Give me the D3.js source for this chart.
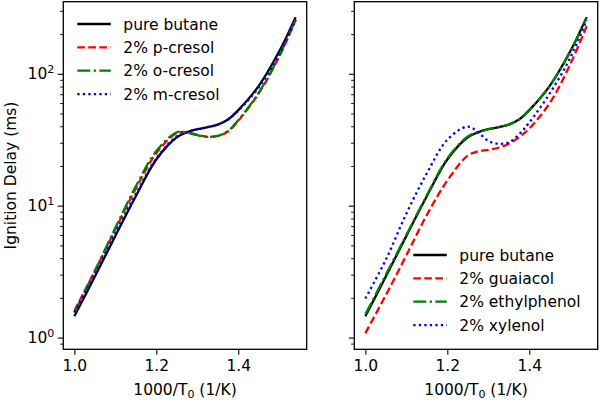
<!DOCTYPE html>
<html><head><meta charset="utf-8">
<script src="https://cdn.jsdelivr.net/npm/d3@7"></script>
<style>body{margin:0;background:#fff}svg{display:block}text{font-family:"DejaVu Sans",sans-serif}</style>
</head><body><svg id="c" width="600" height="400"></svg>
<script>
const xs = [1.0,1.05,1.1,1.15,1.2,1.25,1.275,1.3,1.325,1.35,1.375,1.4,1.45,1.5,1.54];
const butane = [1.45,2.9,5.9,11.8,22.4,33,36,38,39.4,41.2,45,53,81,148,269];
const pCresol = [1.6,3.2,6.6,13.5,25,35.5,36,34.5,33.3,33.8,36.5,44,71,135,255];
const oCresol = [1.55,3.2,6.8,14,26,36,35.8,34.2,33.2,33.8,36.8,44.5,72,137,258];
const mCresol = [1.55,3.0,6.2,12.3,22.8,33.5,36.2,38,39.4,41.2,45,52.5,79,143,258];
const guaiacol = [1.08,2.1,4.2,8.5,15.5,24,25.8,26.5,27.5,29.5,33,38.5,60,118,230];
const ethylphenol = [1.5,3.0,6.0,12.0,22.8,33.5,36.2,38,39.4,41.2,45,53,81,147,266];
const xylenol = [1.98,3.9,8.7,17.6,31.6,39.8,36,31,29.5,30.2,34.7,42.7,71,132,257];
const xTicks = [1.0,1.2,1.4];
const yTickExp = [0,1,2];

const svg = d3.select("#c");
const plotTop = 1.7, plotBottom = 349.3;
const LW = 2.3;
const panels = [
  {x0:63.3, x1:306.7, labels:true, legend:{x:77.3,y:24},
   series:[{name:"pure butane",v:butane,c:"#000000",d:null},
           {name:"2% p-cresol",v:pCresol,c:"#ff0000",d:"7.6,3.4"},
           {name:"2% o-cresol",v:oCresol,c:"#008000",d:"13,3.4,2.3,3.4"},
           {name:"2% m-cresol",v:mCresol,c:"#0000ff",d:"2.3,3.2"}]},
  {x0:354.3, x1:597.7, labels:false, legend:{x:413.3,y:255},
   series:[{name:"pure butane",v:butane,c:"#000000",d:null},
           {name:"2% guaiacol",v:guaiacol,c:"#ff0000",d:"7.6,3.4"},
           {name:"2% ethylphenol",v:ethylphenol,c:"#008000",d:"13,3.4,2.3,3.4"},
           {name:"2% xylenol",v:xylenol,c:"#0000ff",d:"2.3,3.2"}]}
];
const y = d3.scaleLog().domain([0.815,352]).range([plotBottom,plotTop]);

panels.forEach(p=>{
  const x = d3.scaleLinear().domain([0.973,1.567]).range([p.x0,p.x1]);
  const g = svg.append("g");
  const line = d3.line().x((d,i)=>x(xs[i])).y(d=>y(d)).curve(d3.curveCatmullRom.alpha(0.5));
  p.series.forEach(s=>{
    g.append("path").attr("d",line(s.v)).attr("fill","none").attr("stroke",s.c)
     .attr("stroke-width",LW).attr("stroke-dasharray",s.d);
  });
  g.append("rect").attr("x",p.x0).attr("y",plotTop).attr("width",p.x1-p.x0).attr("height",plotBottom-plotTop)
   .attr("fill","none").attr("stroke","#000").attr("stroke-width",1.3);
  const xa = g.append("g").attr("transform",`translate(0,${plotBottom})`)
    .call(d3.axisBottom(x).tickValues(xTicks).tickFormat(d3.format(".1f")).tickSize(5.5).tickPadding(5));
  xa.select(".domain").remove();
  xa.selectAll("line").attr("stroke-width",1.1);
  xa.selectAll("text").attr("font-size",15.5).attr("fill","#000").attr("font-family","DejaVu Sans");
  const minor = [];
  for(let e=-1;e<=2;e++) for(let k=2;k<=9;k++){const v=k*Math.pow(10,e); if(v>0.815&&v<352) minor.push(v);}
  const ya = g.append("g").attr("transform",`translate(${p.x0},0)`)
    .call(d3.axisLeft(y).tickValues(minor).tickFormat("").tickSize(3.2));
  ya.select(".domain").remove();
  ya.selectAll("line").attr("stroke-width",0.9);
  const yb = g.append("g").attr("transform",`translate(${p.x0},0)`)
    .call(d3.axisLeft(y).tickValues(yTickExp.map(e=>Math.pow(10,e))).tickFormat("").tickSize(5.5));
  yb.select(".domain").remove();
  yb.selectAll("line").attr("stroke-width",1.1);
  if(p.labels){
    yTickExp.forEach(e=>{
      const t = g.append("text").attr("x",p.x0-9).attr("y",y(Math.pow(10,e))+5.5)
        .attr("text-anchor","end").attr("font-size",15.5).attr("fill","#000");
      t.append("tspan").text("10");
      t.append("tspan").attr("font-size",11).attr("dy",-6.5).text(String(e));
    });
    svg.append("text").attr("transform",`translate(16,${(plotTop+plotBottom)/2}) rotate(-90)`)
      .attr("text-anchor","middle").attr("font-size",15.5).text("Ignition Delay (ms)");
  }
  const xl = svg.append("text").attr("x",(p.x0+p.x1)/2).attr("y",395).attr("text-anchor","middle").attr("font-size",15.5);
  xl.append("tspan").text("1000/T");
  xl.append("tspan").attr("font-size",11).attr("dy",3).text("0");
  xl.append("tspan").attr("dy",-3).text(" (1/K)");
  p.series.forEach((s,i)=>{
    const yy = p.legend.y + i*23.35;
    svg.append("line").attr("x1",p.legend.x).attr("x2",p.legend.x+33.5).attr("y1",yy).attr("y2",yy)
      .attr("stroke",s.c).attr("stroke-width",LW).attr("stroke-dasharray",s.d);
    svg.append("text").attr("x",p.legend.x+46).attr("y",yy+5.5).attr("font-size",15.5).text(s.name);
  });
});
</script></body></html>
